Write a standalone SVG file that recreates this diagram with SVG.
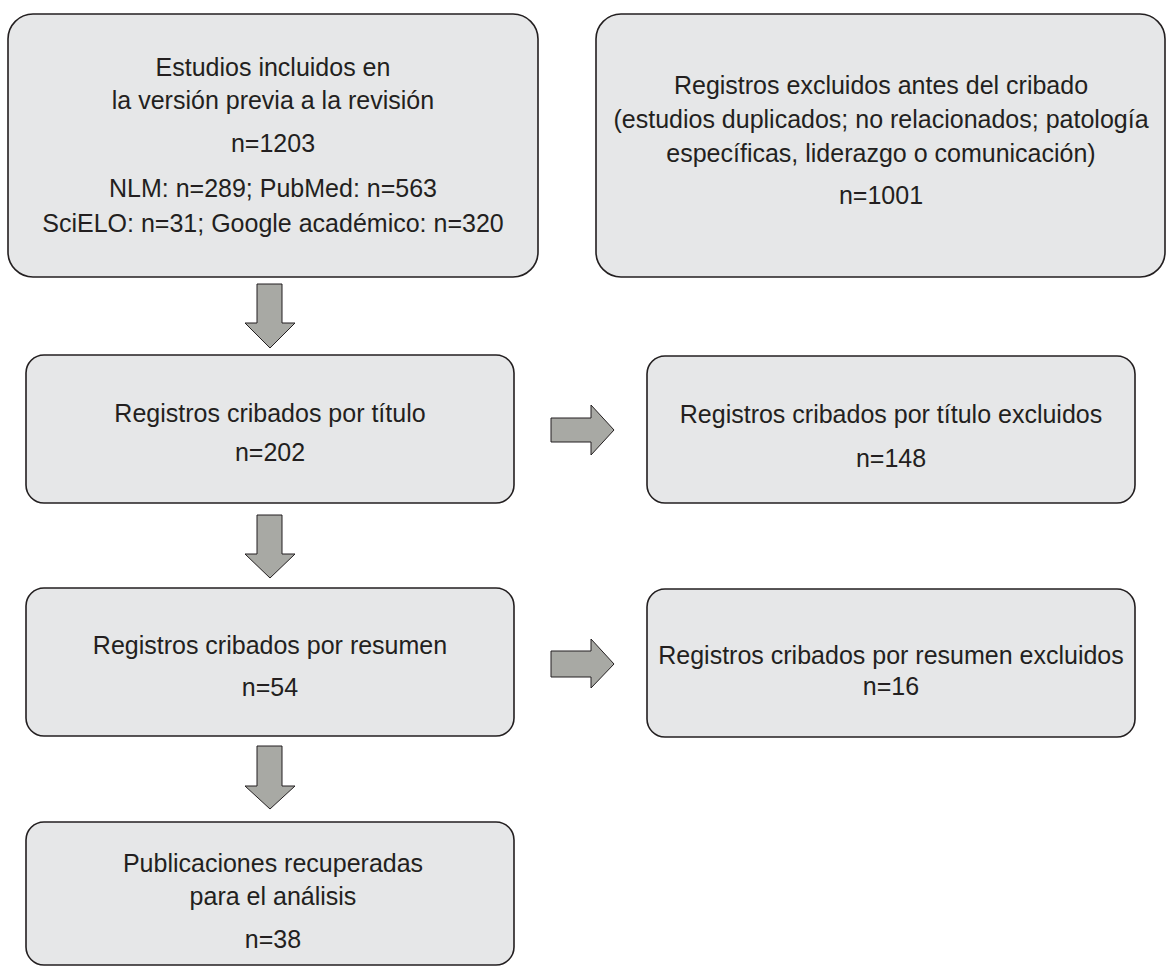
<svg xmlns="http://www.w3.org/2000/svg" width="1168" height="967" viewBox="0 0 1168 967">
<style>
.box{fill:#e6e7e8;stroke:#231f20;stroke-width:1.6}
.arr{fill:#a8a9a4;stroke:#231f20;stroke-width:1}
text{font-family:"Liberation Sans",Arial,sans-serif;font-size:25px;fill:#231f20;text-anchor:middle}
</style>
<rect width="1168" height="967" fill="#ffffff"/>
<g id="n1">
<rect class="box" x="8" y="14" width="530" height="263" rx="25" ry="25"/>
<text x="273" y="76">Estudios incluidos en</text>
<text x="273" y="109">la versión previa a la revisión</text>
<text x="273" y="152">n=1203</text>
<text x="273" y="197">NLM: n=289; PubMed: n=563</text>
<text x="273" y="232">SciELO: n=31; Google académico: n=320</text>
</g>
<g id="n2">
<rect class="box" x="596" y="14" width="569" height="263" rx="25" ry="25"/>
<text x="881" y="94">Registros excluidos antes del cribado</text>
<text x="881" y="128">(estudios duplicados; no relacionados; patología</text>
<text x="881" y="162">específicas, liderazgo o comunicación)</text>
<text x="881" y="204">n=1001</text>
</g>
<g id="n3">
<rect class="box" x="26" y="355" width="488" height="148" rx="18" ry="18"/>
<text x="270" y="422">Registros cribados por título</text>
<text x="270" y="461">n=202</text>
</g>
<g id="n4">
<rect class="box" x="647" y="356" width="488" height="147" rx="18" ry="18"/>
<text x="891" y="423">Registros cribados por título excluidos</text>
<text x="891" y="467">n=148</text>
</g>
<g id="n5">
<rect class="box" x="26" y="588" width="488" height="148" rx="18" ry="18"/>
<text x="270" y="654">Registros cribados por resumen</text>
<text x="270" y="696">n=54</text>
</g>
<g id="n6">
<rect class="box" x="647" y="589" width="488" height="148" rx="18" ry="18"/>
<text x="891" y="664">Registros cribados por resumen excluidos</text>
<text x="891" y="695">n=16</text>
</g>
<g id="n7">
<rect class="box" x="26" y="822" width="488" height="143" rx="18" ry="18"/>
<text x="273" y="872">Publicaciones recuperadas</text>
<text x="273" y="905">para el análisis</text>
<text x="273" y="948">n=38</text>
</g>
<g id="connectors">
<polygon class="arr" points="257,284 282,284 282,323 295,323 270,348 245,323 257,323"/>
<polygon class="arr" points="257,515 282,515 282,554 295,554 270,578 245,554 257,554"/>
<polygon class="arr" points="257,746 282,746 282,786 295,786 270,809 245,786 257,786"/>
<polygon class="arr" points="551,418 591,418 591,405 614,430 591,455 591,442 551,442"/>
<polygon class="arr" points="551,651 591,651 591,639 614,664 591,688 591,677 551,677"/>
</g>
</svg>
